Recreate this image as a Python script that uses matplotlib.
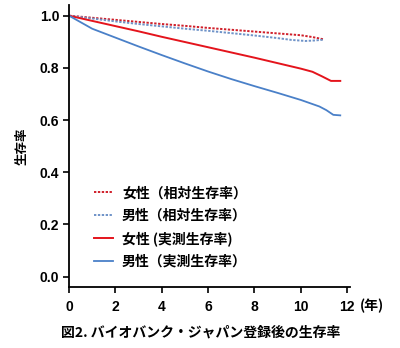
import matplotlib
matplotlib.use("Agg")
import matplotlib.pyplot as plt

plt.rcParams['font.family'] = ['Noto Sans CJK JP', 'DejaVu Sans']

# years since registration
years_f_rel = [0, 1, 2, 3, 4, 5, 6, 7, 8, 9, 10, 10.5, 11.0]
f_rel = [1.0, 0.992, 0.984, 0.976, 0.968, 0.961, 0.953, 0.946, 0.939, 0.932, 0.925, 0.918, 0.909]

years_m_rel = [0, 1, 2, 3, 4, 5, 6, 7, 8, 9, 9.6, 10.2, 10.6, 11.0]
m_rel = [1.0, 0.989, 0.978, 0.968, 0.959, 0.950, 0.942, 0.933, 0.924, 0.914, 0.907, 0.903, 0.905, 0.908]

years_f_obs = [0, 1, 2, 3, 4, 5, 6, 7, 8, 9, 10, 10.5, 10.9, 11.3, 11.7]
f_obs = [1.0, 0.980, 0.960, 0.940, 0.919, 0.899, 0.879, 0.859, 0.839, 0.818, 0.797, 0.785, 0.768, 0.750, 0.750]

years_m_obs = [0, 1, 2, 3, 4, 5, 6, 7, 8, 9, 10, 10.8, 11.1, 11.4, 11.7]
m_obs = [1.0, 0.950, 0.916, 0.882, 0.849, 0.817, 0.786, 0.757, 0.730, 0.704, 0.677, 0.652, 0.638, 0.620, 0.618]

labels = ['女性（相対生存率）', '男性（相対生存率）', '女性 (実測生存率)', '男性（実測生存率）']
xticks = [0, 2, 4, 6, 8, 10, 12]
yticks = [0.0, 0.2, 0.4, 0.6, 0.8, 1.0]

num_font = dict(family='Liberation Sans', fontsize=10, fontweight='bold')

fig = plt.figure(figsize=(4.0, 3.48), dpi=100)
ax = fig.add_axes([0.1725, 0.175, 0.7025, 0.81])

ax.plot(years_f_rel, f_rel, color='#d01f2a', lw=1.4, ls=(0, (1.2, 0.8)), label=labels[0])
ax.plot(years_m_rel, m_rel, color='#6f93c8', lw=1.4, ls=(0, (1.2, 0.8)), label=labels[1])
ax.plot(years_f_obs, f_obs, color='#e4141c', lw=1.4, label=labels[2])
ax.plot(years_m_obs, m_obs, color='#4a80c8', lw=1.3, label=labels[3])

ax.set_xlim(0, 12.12)
ax.set_ylim(-0.04, 1.04)
ax.set_xticks(xticks)
ax.set_yticks(yticks)
ax.set_xticklabels([str(t) for t in xticks], **num_font)
ax.set_yticklabels([f'{t:.1f}' for t in yticks], **num_font)
ax.tick_params(axis='x', direction='out', length=4, width=1.2, pad=5)
ax.tick_params(axis='y', direction='out', length=4, width=1.2, pad=3)
for side in ['top', 'right']:
    ax.spines[side].set_visible(False)
for side in ['left', 'bottom']:
    ax.spines[side].set_linewidth(1.3)

ax.set_ylabel('生存率', fontsize=9, fontweight='bold', labelpad=8)
ax.text(12.55, -0.085, '(年)', fontsize=10, fontweight='bold',
        va='top', ha='left', clip_on=False)

leg = ax.legend(loc='lower left', bbox_to_anchor=(0.045, 0.02), frameon=False,
                fontsize=10, handlelength=1.35, handletextpad=0.65, labelspacing=0.62)
for t in leg.get_texts():
    t.set_fontweight('bold')

fig.text(0.152, 0.025, '図2. バイオバンク・ジャパン登録後の生存率', fontsize=10,
         fontweight='bold', ha='left', va='bottom')

fig.savefig('out.png', dpi=100)
